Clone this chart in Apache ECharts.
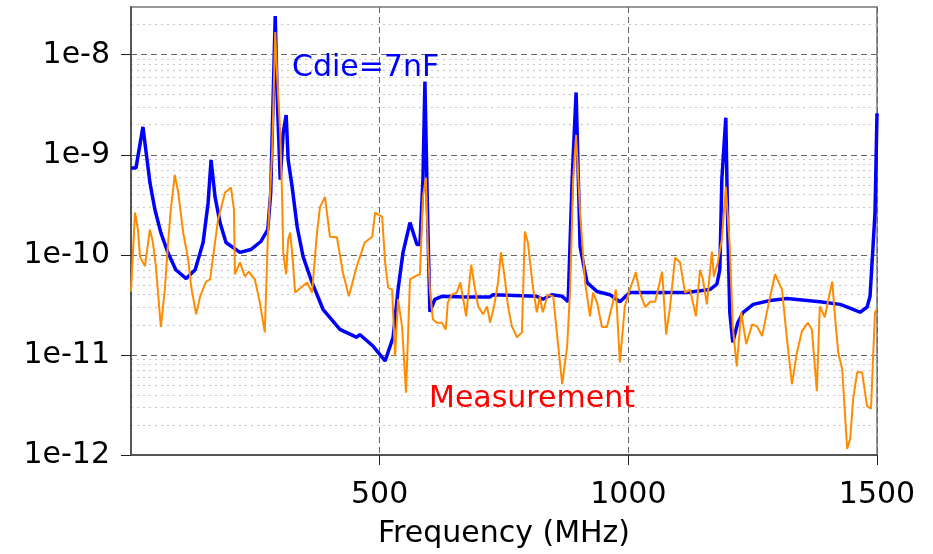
<!DOCTYPE html>
<html>
<head>
<meta charset="utf-8">
<script src="https://cdn.jsdelivr.net/npm/echarts@6/dist/echarts.min.js"></script>
<style>
  html, body { margin: 0; padding: 0; background: #fff; }
  #chart { width: 933px; height: 554px; }
</style>
</head>
<body>
<div id="chart"></div>
<script>
// simulated impedance, Cdie = 7nF
const cdieFreq = [0, 10, 24, 38, 48, 60, 74, 90, 111, 129, 145, 155, 161, 169, 179, 191, 219, 241, 261, 275, 281, 284, 290, 294, 300, 306, 312, 316, 324, 334, 346, 364, 386, 420, 454, 460, 487, 511, 527, 537, 547, 561, 575, 581, 587, 591, 596, 601, 611, 625, 672, 722, 728, 816, 828, 846, 867, 879, 887, 895, 903, 917, 937, 963, 983, 1003, 1050, 1118, 1164, 1178, 1184, 1188, 1196, 1200, 1204, 1210, 1220, 1231, 1251, 1285, 1319, 1385, 1426, 1452, 1466, 1480, 1486, 1492, 1496, 1500]
const cdieVal = [7.4e-10, 7.4e-10, 1.9e-9, 5.3e-10, 2.84e-10, 1.67e-10, 1.06e-10, 7.1e-11, 5.8e-11, 7.1e-11, 1.33e-10, 3.3e-10, 8.9e-10, 3.8e-10, 2.1e-10, 1.33e-10, 1.06e-10, 1.13e-10, 1.36e-10, 1.79e-10, 4.2e-10, 1.66e-9, 2.44e-8, 3.8e-9, 5.65e-10, 1.66e-9, 2.5e-9, 8.9e-10, 4.8e-10, 1.92e-10, 9.6e-11, 5.3e-11, 2.86e-11, 1.8e-11, 1.5e-11, 1.6e-11, 1.22e-11, 8.7e-12, 1.5e-11, 4.5e-11, 1.06e-10, 2.1e-10, 1.27e-10, 1.27e-10, 5.65e-10, 5.4e-9, 3.0e-10, 2.7e-11, 3.6e-11, 3.85e-11, 3.8e-11, 3.8e-11, 4.0e-11, 3.85e-11, 3.6e-11, 4.0e-11, 3.85e-11, 3.4e-11, 5.65e-10, 4.2e-9, 1.21e-10, 5.3e-11, 4.3e-11, 4.0e-11, 3.4e-11, 4.2e-11, 4.2e-11, 4.2e-11, 4.5e-11, 5.1e-11, 7.1e-11, 5.65e-10, 2.35e-9, 1.79e-10, 2.67e-11, 1.34e-11, 2.1e-11, 2.67e-11, 3.2e-11, 3.5e-11, 3.67e-11, 3.4e-11, 3.2e-11, 2.86e-11, 2.67e-11, 3.0e-11, 3.85e-11, 1.21e-10, 2.65e-10, 2.6e-9]

// measurement
const measFreq = [0, 8, 14, 18, 28, 38, 44, 50, 60, 68, 74, 80, 88, 95, 105, 115, 121, 131, 139, 151, 159, 167, 175, 189, 201, 207, 209, 219, 229, 237, 249, 259, 269, 275, 284, 290, 294, 300, 304, 306, 312, 316, 320, 324, 330, 354, 364, 374, 380, 390, 400, 414, 426, 438, 454, 470, 485, 491, 505, 511, 517, 525, 531, 537, 545, 553, 561, 571, 581, 587, 593, 597, 601, 607, 615, 625, 633, 637, 645, 655, 662, 668, 674, 684, 692, 698, 708, 716, 722, 730, 738, 744, 752, 758, 766, 776, 786, 792, 798, 808, 816, 822, 828, 838, 849, 857, 867, 877, 883, 889, 895, 903, 913, 923, 929, 937, 947, 957, 967, 975, 983, 993, 1003, 1015, 1023, 1034, 1044, 1054, 1068, 1076, 1084, 1094, 1104, 1114, 1124, 1136, 1144, 1150, 1158, 1168, 1172, 1180, 1188, 1196, 1204, 1210, 1218, 1227, 1237, 1249, 1259, 1269, 1281, 1295, 1309, 1319, 1329, 1339, 1349, 1361, 1369, 1379, 1385, 1395, 1401, 1410, 1416, 1422, 1430, 1440, 1446, 1452, 1460, 1470, 1480, 1488, 1492, 1496, 1500]
const measVal = [4.3e-11, 2.65e-10, 1.79e-10, 9.6e-11, 7.7e-11, 1.79e-10, 1.33e-10, 7.7e-11, 1.9e-11, 4.5e-11, 1.21e-10, 2.84e-10, 6.3e-10, 4.2e-10, 1.67e-10, 9.0e-11, 4.8e-11, 2.55e-11, 3.85e-11, 5.4e-11, 5.7e-11, 1.13e-10, 2.25e-10, 4.2e-10, 4.7e-10, 2.84e-10, 6.4e-11, 8.4e-11, 6.1e-11, 6.8e-11, 5.7e-11, 3.35e-11, 1.68e-11, 1.42e-10, 1.12e-9, 1.69e-8, 6.0e-9, 1.66e-9, 3.57e-10, 1.06e-10, 6.4e-11, 1.42e-10, 1.67e-10, 1.06e-10, 4.2e-11, 5.3e-11, 4.2e-11, 1.67e-10, 3.0e-10, 3.8e-10, 1.52e-10, 1.5e-10, 6.7e-11, 3.85e-11, 7.7e-11, 1.33e-10, 1.52e-10, 2.65e-10, 2.4e-10, 8.4e-11, 4.7e-11, 4.5e-11, 9.7e-12, 3.6e-11, 1.93e-11, 4.2e-12, 5.7e-11, 6.1e-11, 6.4e-11, 3.8e-10, 5.9e-10, 1.13e-10, 4.5e-11, 2.27e-11, 2.1e-11, 2.1e-11, 1.8e-11, 3.35e-11, 4.0e-11, 4.2e-11, 5.3e-11, 3.6e-11, 2.43e-11, 8.0e-11, 4.5e-11, 3.06e-11, 2.55e-11, 3.06e-11, 2.1e-11, 3.06e-11, 5.3e-11, 1.06e-10, 5.7e-11, 3.06e-11, 1.93e-11, 1.5e-11, 1.68e-11, 1.71e-10, 1.33e-10, 4.8e-11, 2.67e-11, 3.85e-11, 2.67e-11, 4.0e-11, 3.85e-11, 1.54e-11, 5.1e-12, 1.22e-11, 4.5e-11, 5.65e-10, 1.58e-9, 2.65e-10, 5.3e-11, 2.43e-11, 4.2e-11, 3.35e-11, 1.9e-11, 1.9e-11, 3.06e-11, 4.5e-11, 8.4e-12, 3.06e-11, 4.5e-11, 6.7e-11, 4.2e-11, 3.0e-11, 3.4e-11, 3.4e-11, 6.8e-11, 1.6e-11, 3.06e-11, 9.4e-11, 8.4e-11, 4.2e-11, 4.5e-11, 2.43e-11, 7.1e-11, 5.7e-11, 3.2e-11, 1.08e-10, 6.1e-11, 8.4e-11, 1.42e-10, 4.8e-10, 1.21e-10, 1.93e-11, 7.7e-12, 2.67e-11, 1.28e-11, 2.02e-11, 1.93e-11, 1.54e-11, 3.06e-11, 6.4e-11, 4.5e-11, 1.43e-11, 5.1e-12, 1.06e-11, 1.72e-11, 2.1e-11, 1.8e-11, 4.35e-12, 3.06e-11, 2.38e-11, 3.35e-11, 5.4e-11, 2.27e-11, 1.06e-11, 7.2e-12, 1.15e-12, 1.44e-12, 3.6e-12, 6.7e-12, 6.7e-12, 3.08e-12, 2.9e-12, 9.1e-12, 2.67e-11, 2.86e-11]

const xTicks = [500, 1000, 1500]
const yTicks = [1e-12, 1e-11, 1e-10, 1e-9, 1e-8]
const yMinorGrid = [2e-12, 3e-12, 4e-12, 5e-12, 6e-12, 7e-12, 8e-12, 9e-12,
  2e-11, 3e-11, 4e-11, 5e-11, 6e-11, 7e-11, 8e-11, 9e-11,
  2e-10, 3e-10, 4e-10, 5e-10, 6e-10, 7e-10, 8e-10, 9e-10,
  2e-9, 3e-9, 4e-9, 5e-9, 6e-9, 7e-9, 8e-9, 9e-9, 2e-8]

const font = 'DejaVu Sans'
const zip = (xs, ys) => xs.map((x, i) => [x, ys[i]])

const chart = echarts.init(document.getElementById('chart'))

chart.setOption({
  animation: false,
  backgroundColor: '#fff',
  grid: {
    left: 131,
    right: 56,
    top: 7,
    bottom: 98,
    show: true,
    borderColor: '#777',
    borderWidth: 1.5
  },
  xAxis: {
    type: 'value',
    min: 0,
    max: 1500,
    interval: 500,
    name: 'Frequency (MHz)',
    nameLocation: 'middle',
    nameGap: 64,
    nameTextStyle: { fontFamily: font, fontSize: 30, color: '#000' },
    axisLine: { lineStyle: { color: '#555', width: 2 } },
    axisTick: { customValues: xTicks, length: 10, lineStyle: { color: '#222' } },
    axisLabel: {
      customValues: xTicks,
      margin: 25,
      fontFamily: font,
      fontSize: 30,
      color: '#000',
      formatter: v => String(v)
    },
    splitLine: { show: true, lineStyle: { color: '#666', type: [6, 4], width: 1 } }
  },
  yAxis: [
    {
      // minor grid only (dotted lines at 2..9 x 10^n)
      type: 'log',
      logBase: 10,
      min: 1e-12,
      max: 3e-8,
      z: 0,
      axisLine: { show: false },
      axisTick: { show: false, customValues: yMinorGrid },
      axisLabel: { show: false },
      splitLine: { show: true, lineStyle: { color: '#c4c4c4', type: [2, 4], width: 1 } }
    },
    {
      type: 'log',
      logBase: 10,
      min: 1e-12,
      max: 3e-8,
      position: 'left',
      axisLine: { show: true, lineStyle: { color: '#555', width: 2 } },
      axisTick: { show: true, customValues: yTicks, length: 10, lineStyle: { color: '#222' } },
      axisLabel: {
        customValues: yTicks,
        margin: 21,
        fontFamily: font,
        fontSize: 30,
        color: '#000',
        formatter: v => '1e' + Math.round(Math.log10(v))
      },
      splitLine: { show: true, lineStyle: { color: '#666', type: [6, 4], width: 1 } }
    }
  ],
  graphic: [
    {
      type: 'text', left: 292, top: 53, z: 10,
      style: { text: 'Cdie=7nF', font: '30px "DejaVu Sans"', fill: '#0000ff' }
    },
    {
      type: 'text', left: 429, top: 384, z: 10,
      style: { text: 'Measurement', font: '30px "DejaVu Sans"', fill: '#ff0000' }
    }
  ],
  series: [
    {
      name: 'Cdie=7nF',
      type: 'line',
      yAxisIndex: 1,
      z: 3,
      showSymbol: false,
      data: zip(cdieFreq, cdieVal),
      lineStyle: { color: '#0000ff', width: 3.5 }
    },
    {
      name: 'Measurement',
      type: 'line',
      yAxisIndex: 1,
      z: 4,
      showSymbol: false,
      data: zip(measFreq, measVal),
      lineStyle: { color: '#ff8c00', width: 2 }
    }
  ]
})
</script>
</body>
</html>
